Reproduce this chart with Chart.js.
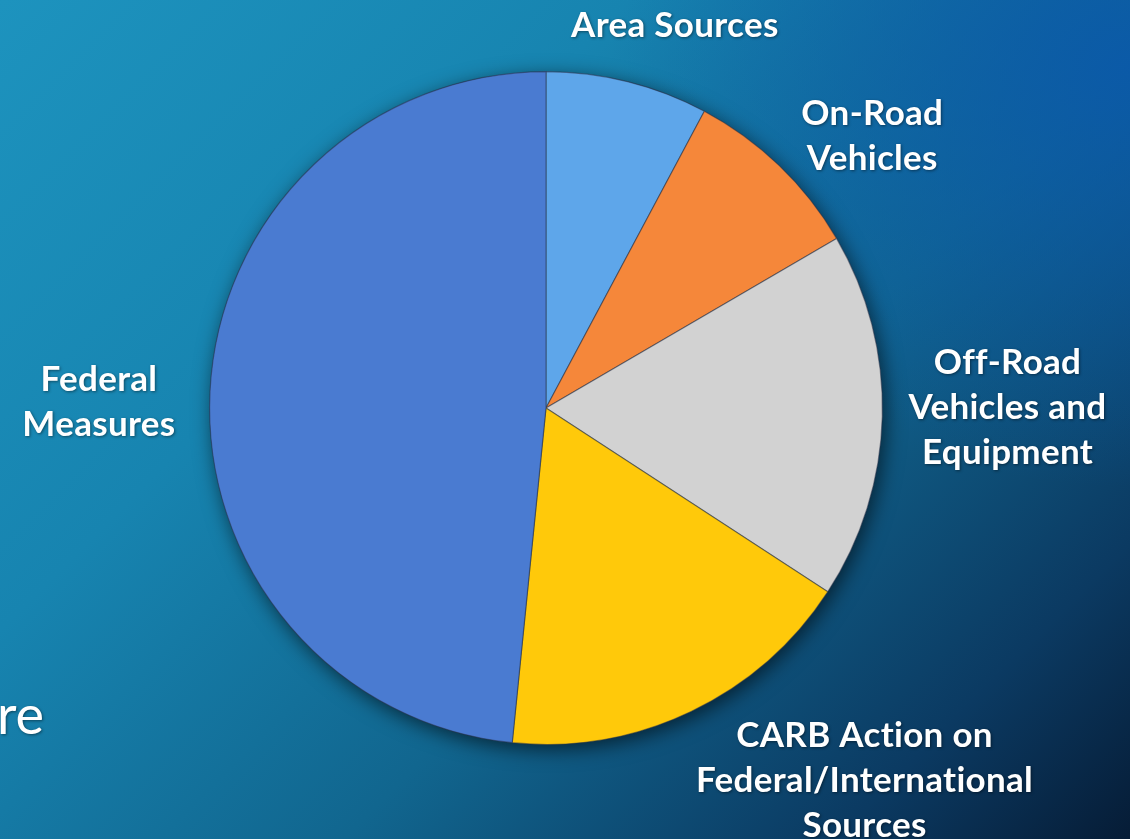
<!DOCTYPE html>
<html>
<head>
<meta charset="utf-8">
<script src="https://cdn.jsdelivr.net/npm/chart.js@4.4.0/dist/chart.umd.min.js"></script>
<style>
  html, body { margin: 0; padding: 0; }
  body {
    width: 1130px; height: 839px; overflow: hidden;
    background:
      radial-gradient(ellipse 520px 420px at 100% 8%, rgba(10,88,172,0.85) 0%, rgba(10,88,172,0) 100%),
      linear-gradient(135deg, #1d93be 0%, #1784b0 32%, #11668f 60%, #0b3a62 85%, #061c36 100%);
  }
  #wrap { position: relative; width: 1130px; height: 839px; }
</style>
</head>
<body>
<div id="wrap"><canvas id="pieChart" width="1130" height="839"></canvas></div>
<script>
const categories = [
  "Area Sources",
  "On-Road Vehicles",
  "Off-Road Vehicles and Equipment",
  "CARB Action on Federal/International Sources",
  "Federal Measures"
];
const shares = [7.8, 8.8, 17.6, 17.4, 48.4];
const sliceColors = ["#5ea6ea", "#f5873a", "#d2d2d2", "#ffc90a", "#4a7bd1"];

// label lines and where they sit, relative to the pie centre in radius units
const labelLines = [
  ["Area Sources"],
  ["On-Road", "Vehicles"],
  ["Off-Road", "Vehicles and", "Equipment"],
  ["CARB Action on", "Federal/International", "Sources"],
  ["Federal", "Measures"]
];
const labelAnchors = [
  [0.383, -1.137],
  [0.970, -0.808],
  [1.372, 0.0],
  [0.947, 1.107],
  [-1.329, -0.016]
];

function shade(hex, amt) {
  const n = parseInt(hex.slice(1), 16);
  let r = (n >> 16) & 255, g = (n >> 8) & 255, b = n & 255;
  const f = v => Math.max(0, Math.min(255, Math.round(amt > 0 ? v + (255 - v) * amt : v * (1 + amt))));
  return `rgb(${f(r)},${f(g)},${f(b)})`;
}

const shadowPlugin = {
  id: "pieShadow",
  beforeDatasetsDraw(chart) {
    const arc = chart.getDatasetMeta(0).data[0];
    if (!arc) return;
    const ctx = chart.ctx;
    ctx.save();
    ctx.shadowColor = "rgba(0,0,0,0.6)";
    ctx.shadowBlur = 20;
    ctx.shadowOffsetX = 3;
    ctx.shadowOffsetY = 5;
    ctx.fillStyle = "#1a3a66";
    ctx.beginPath();
    ctx.arc(arc.x, arc.y, arc.outerRadius, 0, Math.PI * 2);
    ctx.fill();
    ctx.restore();
  }
};

const labelPlugin = {
  id: "sliceLabels",
  afterDatasetsDraw(chart) {
    const arc = chart.getDatasetMeta(0).data[0];
    if (!arc) return;
    const ctx = chart.ctx;
    const R = arc.outerRadius;
    ctx.save();
    ctx.fillStyle = "#ffffff";
    ctx.textAlign = "center";
    ctx.textBaseline = "middle";
    ctx.shadowColor = "rgba(0,0,0,0.45)";
    ctx.shadowBlur = 3;
    ctx.shadowOffsetX = 1;
    ctx.shadowOffsetY = 1;
    ctx.letterSpacing = "0.3px"; // also stops the "ti" ligature
    ctx.font = "bold 35px Lato, 'Open Sans', sans-serif";
    labelLines.forEach((lines, i) => {
      const cx = arc.x + labelAnchors[i][0] * R;
      const cy = arc.y + labelAnchors[i][1] * R;
      const lh = 45;
      const top = cy - (lines.length - 1) * lh / 2;
      lines.forEach((t, j) => ctx.fillText(t, cx, top + j * lh));
    });
    // leftover slide text at the left edge
    ctx.textAlign = "left";
    ctx.textBaseline = "alphabetic";
    ctx.letterSpacing = "0px";
    ctx.font = "54px Lato, 'Open Sans', sans-serif";
    ctx.fillText("re", -3, 734);
    ctx.restore();
  }
};

const ctx = document.getElementById("pieChart").getContext("2d");
new Chart(ctx, {
  type: "pie",
  data: {
    labels: categories,
    datasets: [{
      data: shares,
      backgroundColor: c => {
        const el = c.element;
        const base = sliceColors[c.dataIndex];
        if (!el || !el.outerRadius) return base;
        const g = c.chart.ctx.createRadialGradient(el.x, el.y, 0, el.x, el.y, el.outerRadius);
        g.addColorStop(0, shade(base, -0.05));
        g.addColorStop(0.78, base);
        g.addColorStop(0.92, shade(base, 0.14));
        g.addColorStop(1, shade(base, -0.18));
        return g;
      },
      borderColor: "rgba(40,50,70,0.5)",
      borderWidth: 1.2
    }]
  },
  options: {
    responsive: false,
    animation: false,
    layout: { padding: { left: 209, right: 247, top: 71, bottom: 94 } },
    plugins: {
      legend: { display: false },
      tooltip: { enabled: false }
    }
  },
  plugins: [shadowPlugin, labelPlugin]
});
</script>
</body>
</html>
